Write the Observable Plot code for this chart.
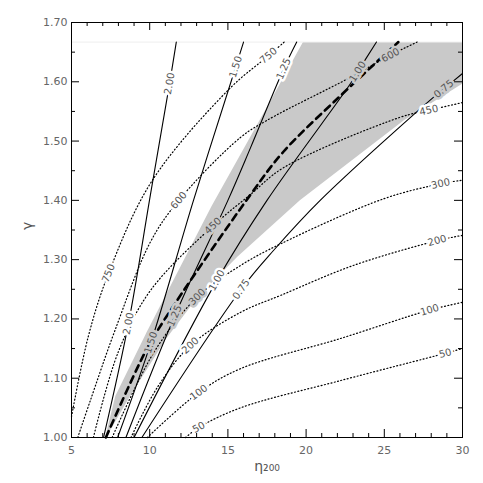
<!DOCTYPE html>
<html><head><meta charset="utf-8">
<script src="https://cdn.jsdelivr.net/npm/d3@7"></script>
<script src="https://cdn.jsdelivr.net/npm/@observablehq/plot@0.6"></script>
<style>body{margin:0;background:#fff}svg{display:block}</style>
</head><body><div id="chart"></div>
<script>
// ---- axes ----
const xDomain = [5, 30];
const yDomain = [1.0, 1.7];
const xMajor = [5, 10, 15, 20, 25, 30];
const xMinor = [6,7,8,9,11,12,13,14,16,17,18,19,21,22,23,24,26,27,28,29];
const yMajor = [1.0, 1.1, 1.2, 1.3, 1.4, 1.5, 1.6, 1.7];
const yMinor = [1.05, 1.15, 1.25, 1.35, 1.45, 1.55, 1.65];
const gMax = 1.667;

// ---- solid contours (labels 2.00 ... 0.75) ----
const c200 = [[7.05,1.0],[8.64,1.192],[10.05,1.41],[11.27,1.597],[11.7,1.667]];
const c150 = [[7.95,1.0],[10.08,1.16],[12.8,1.40],[15.5,1.625],[16.0,1.667]];
const c125 = [[8.48,1.0],[11.6,1.205],[15.0,1.40],[16.45,1.489],[18.57,1.622],[19.4,1.667]];
const c100 = [[9.0,1.0],[14.3,1.265],[17.5,1.40],[22.84,1.597],[23.3,1.617],[24.5,1.667]];
const c075 = [[9.5,1.0],[15.85,1.25],[17.9,1.315],[20.9,1.40],[28.1,1.573],[28.8,1.588],[30,1.614]];

// ---- dotted contours (750 ... 50) ----
const v750 = [[5.0,1.035],[6.07,1.17],[7.37,1.277],[10.15,1.433],[15.17,1.59],[17.6,1.644],[18.6,1.667]];
const v600 = [[5.4,1.0],[6.2,1.062],[7.77,1.18],[10.05,1.33],[11.86,1.40],[15.8,1.506],[17.5,1.535],[22.8,1.607],[25.4,1.645],[27.1,1.667]];
const v450 = [[6.4,1.0],[8.0,1.145],[10.05,1.248],[14.05,1.357],[16.45,1.41],[18.55,1.455],[26.0,1.54],[27.85,1.552],[30,1.565]];
const v300 = [[7.6,1.0],[10.3,1.145],[13.04,1.237],[15.8,1.29],[18.4,1.327],[25.0,1.403],[28.6,1.428],[30,1.434]];
const v200 = [[8.8,1.0],[10.5,1.085],[12.6,1.155],[15.8,1.211],[18.4,1.24],[23.0,1.29],[28.38,1.332],[30,1.341]];
const v100 = [[9.85,1.0],[13.14,1.076],[15.8,1.116],[22.2,1.167],[27.9,1.215],[30,1.228]];
const v50  = [[12.3,1.0],[13.14,1.017],[15.8,1.05],[22.2,1.096],[28.9,1.142],[30,1.150]];

// ---- best-fit relation (thick dashed) ----
const bestFit = [[7.2,1.0],[9.67,1.142],[10.9,1.197],[16.4,1.408],[18.55,1.482],[22.1,1.574],[25.9,1.667]];

// ---- shaded band ----
const bandUpper = [[7.15,1.0],[7.8,1.07],[9.85,1.18],[13.95,1.39],[17.72,1.568],[19.8,1.667]];
const bandLower = [[7.2,1.0],[8.7,1.068],[11.0,1.165],[13.0,1.235],[15.6,1.305],[19.6,1.40],[26.25,1.535],[30,1.597]];

// ---- contour labels ----
const labelText = ["2.00","2.00","1.50","1.50","1.25","1.25","1.00","1.00","0.75","0.75",
                   "750","750","600","600","450","450","300","300","200","200","100","100","50","50"];
const labelSeries = ["c200","c200","c150","c150","c125","c125","c100","c100","c075","c075",
                   "v750","v750","v600","v600","v450","v450","v300","v300","v200","v200","v100","v100","v50","v50"];
const labelX = [11.27,8.64, 15.5,10.08, 18.57,11.6, 23.3,14.3, 28.8,15.85,
                7.37,17.6, 11.86,25.4, 14.05,27.85, 13.04,28.6, 12.6,28.38, 13.14,27.9, 13.14,28.9];
const labelY = [1.597,1.192, 1.625,1.16, 1.622,1.205, 1.617,1.265, 1.588,1.25,
                1.277,1.644, 1.40,1.645, 1.357,1.552, 1.237,1.428, 1.155,1.332, 1.076,1.215, 1.017,1.142];

// ---- layout ----
const W = 483, H = 483, mL = 71, mR = 21, mT = 22, mB = 46;
const innerW = W - mL - mR, innerH = H - mT - mB;
const BAND = "#c9c9c9";

const series = {c200,c150,c125,c100,c075,v750,v600,v450,v300,v200,v100,v50};
const sx = Plot.scale({x: {domain: xDomain, range: [mL, W - mR]}});
const sy = Plot.scale({y: {domain: yDomain, range: [H - mB, mT]}});

const bandPoly = [...bandUpper, [30, gMax], ...bandLower.slice().reverse()];

const labels = labelText.map((t, i) => {
  const pts = series[labelSeries[i]];
  const x = labelX[i], y = labelY[i];
  let k = 0, best = Infinity;
  pts.forEach((p, j) => { const d = Math.hypot(sx.apply(p[0]) - sx.apply(x), sy.apply(p[1]) - sy.apply(y)); if (d < best) { best = d; k = j; } });
  const a = pts[Math.max(k - 1, 0)], b = pts[Math.min(k + 1, pts.length - 1)];
  const angle = Math.atan2(sy.apply(b[1]) - sy.apply(a[1]), sx.apply(b[0]) - sx.apply(a[0])) * 180 / Math.PI;
  return {t, x, y, angle, inBand: d3.polygonContains(bandPoly, [x, y])};
});

const P = d => d[0], Q = d => d[1];
const dotted = [v750, v600, v450, v300, v200, v100, v50].map(s =>
  Plot.line(s, {x: P, y: Q, curve: "catmull-rom", stroke: "#000", strokeWidth: 1.2, strokeDasharray: "1,2.4"}));
const solid = [c200, c150, c125, c100, c075].map(s =>
  Plot.line(s, {x: P, y: Q, curve: "catmull-rom", stroke: "#000", strokeWidth: 1.1}));

const labelOpts = (halo) => ({x: "x", y: "y", text: "t", rotate: "angle", fontSize: 10,
  fill: "#555", stroke: halo, strokeWidth: 5, paintOrder: "stroke"});

const plot = Plot.plot({
  width: W, height: H, marginLeft: mL, marginRight: mR, marginTop: mT, marginBottom: mB,
  style: {fontFamily: "DejaVu Sans, sans-serif", fontSize: "11px", color: "#666", background: "white"},
  x: {domain: xDomain, ticks: xMajor, tickSize: 0, tickPadding: 9, tickFormat: d => String(d), label: null},
  y: {domain: yDomain, ticks: yMajor, tickSize: 0, tickPadding: 4, tickFormat: d3.format(".2f"), label: null},
  marks: [
    Plot.line(bandPoly, {x: P, y: Q, fill: BAND, stroke: "none"}),
    Plot.ruleY([gMax], {stroke: "#eeeeee"}),
    ...dotted,
    ...solid,
    Plot.line(bestFit, {x: P, y: Q, curve: "catmull-rom", stroke: "#000", strokeWidth: 2.6, strokeDasharray: "7,5"}),
    Plot.text(labels.filter(d => !d.inBand), labelOpts("white")),
    Plot.text(labels.filter(d => d.inBand), labelOpts(BAND)),
    Plot.frame({stroke: "#000", strokeWidth: 1}),
    // inward ticks on all four sides
    Plot.ruleX(xMajor, {stroke: "#000", insetTop: innerH - 8}),
    Plot.ruleX(xMajor, {stroke: "#000", insetBottom: innerH - 8}),
    Plot.ruleX(xMinor, {stroke: "#000", insetTop: innerH - 4}),
    Plot.ruleX(xMinor, {stroke: "#000", insetBottom: innerH - 4}),
    Plot.ruleY(yMajor, {stroke: "#000", insetRight: innerW - 8}),
    Plot.ruleY(yMajor, {stroke: "#000", insetLeft: innerW - 8}),
    Plot.ruleY(yMinor, {stroke: "#000", insetRight: innerW - 4}),
    Plot.ruleY(yMinor, {stroke: "#000", insetLeft: innerW - 4}),
    Plot.text(["γ"], {text: d => d, frameAnchor: "left", dx: -44, rotate: -90, fontSize: 14, fill: "#555"}),
    Plot.text(["η₂₀₀"], {text: d => d, frameAnchor: "bottom", dy: 33, fontSize: 14, fill: "#555"})
  ]
});
document.getElementById("chart").appendChild(plot);
</script>
</body></html>
